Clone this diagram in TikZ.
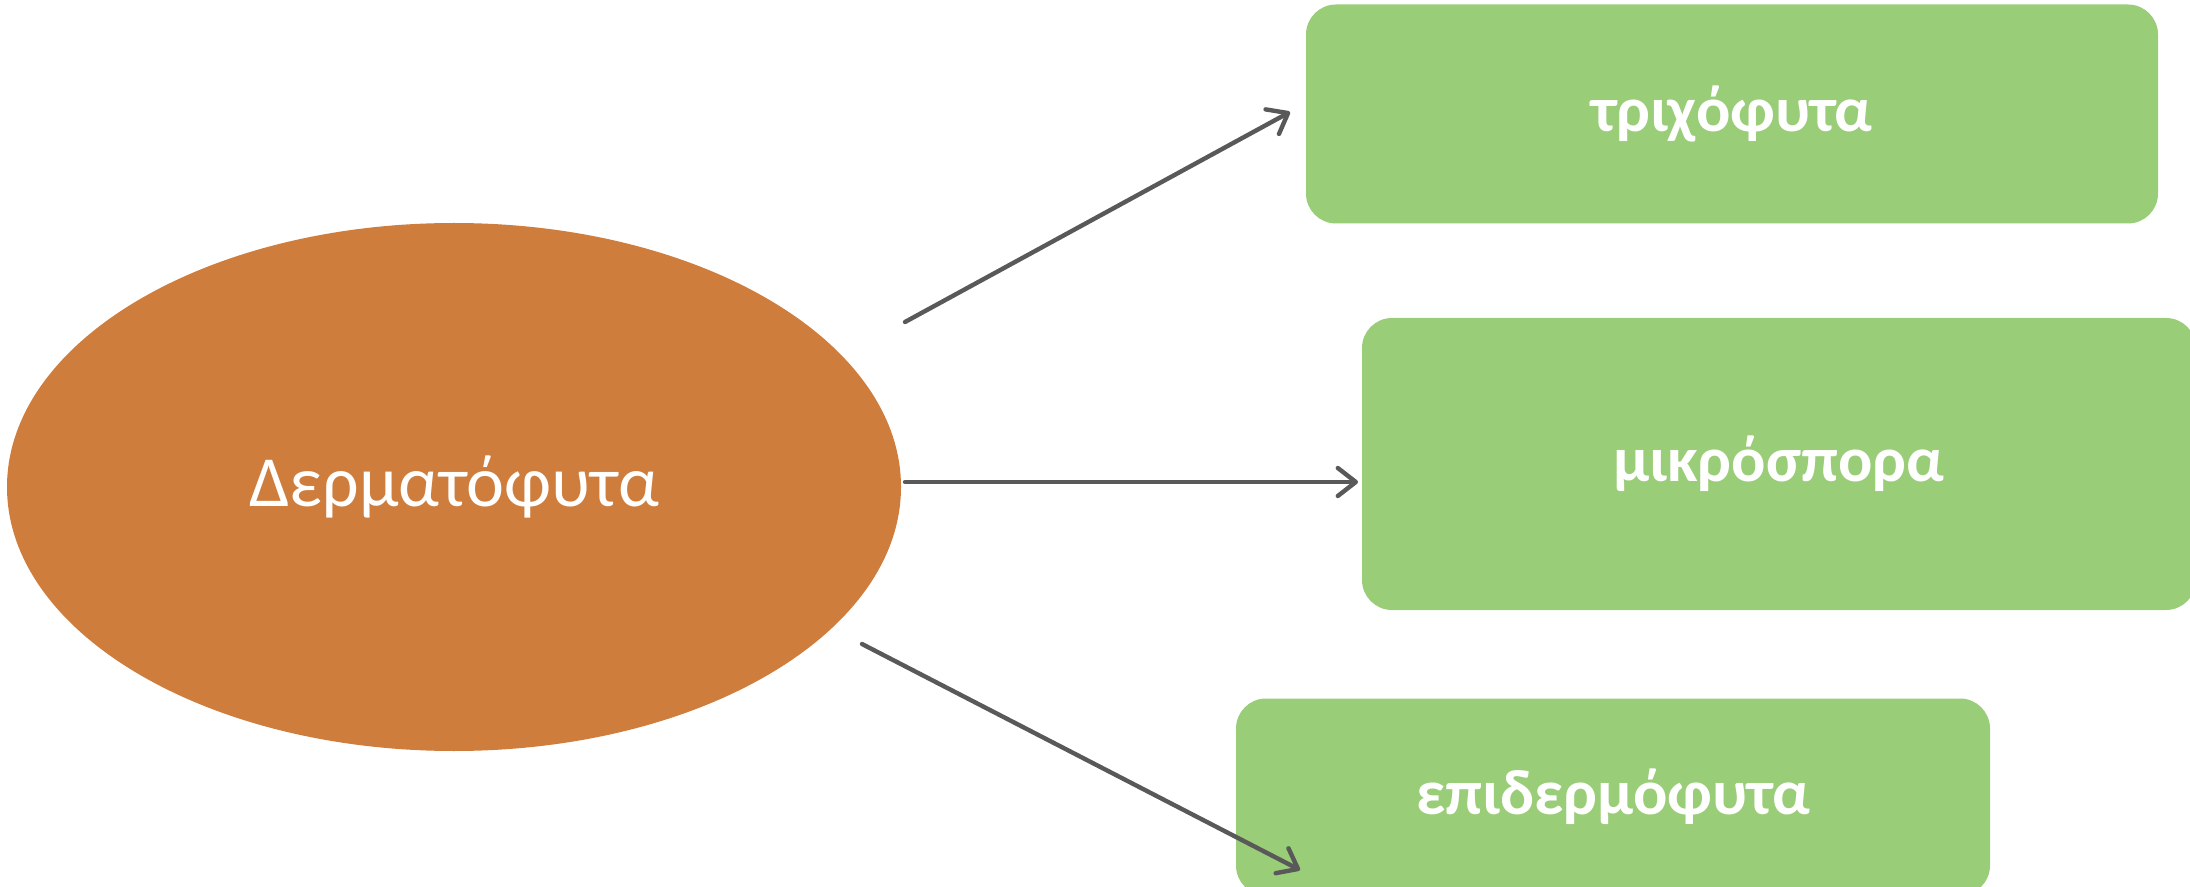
\documentclass[tikz,border=0pt]{standalone}
\usepackage{fontspec}
\setmainfont{Carlito}
\usetikzlibrary{shapes.geometric,arrows.meta}
\definecolor{orangeC}{RGB}{207,125,60}
\definecolor{greenC}{RGB}{154,205,120}
\definecolor{grayC}{RGB}{89,89,89}
\begin{document}
\begin{tikzpicture}[x=0.5pt,y=-0.5pt,
  ellnode/.style={ellipse,fill=orangeC,text=white,inner sep=0pt,font=\fontsize{36pt}{40pt}\selectfont},
  greenbox/.style={rectangle,rounded corners=15pt,fill=greenC,text=white,inner sep=0pt,font=\bfseries\fontsize{32pt}{36pt}\selectfont},
  arr/.style={draw=grayC,line width=2.2pt,line cap=round,-{Straight Barb[length=9pt,width=14pt,line width=2.2pt,round]}}]
\useasboundingbox (0,0) rectangle (2190,887);
\node[ellnode,minimum width=447pt,minimum height=264pt] (ell) at (454,487) {Δερματόφυτα};
\node[greenbox,minimum width=426pt,minimum height=109.5pt] (b1) at (1732,114) {τριχόφυτα};
\node[greenbox,minimum width=417pt,minimum height=146pt] (b2) at (1779,464) {μικρόσπορα};
\node[greenbox,minimum width=377pt,minimum height=98.5pt] (b3) at (1613,797) {επιδερμόφυτα};
\coordinate (t1) at (905,322);
\coordinate (t2) at (905,482);
\coordinate (t3) at (862,644);
\coordinate (e1) at (1290,112);
\coordinate (e2) at (1358,482);
\coordinate (e3) at (1300,870);
\draw[arr] (t1) -- (e1);
\draw[arr] (t2) -- (e2);
\draw[arr] (t3) -- (e3);
\end{tikzpicture}
\end{document}
